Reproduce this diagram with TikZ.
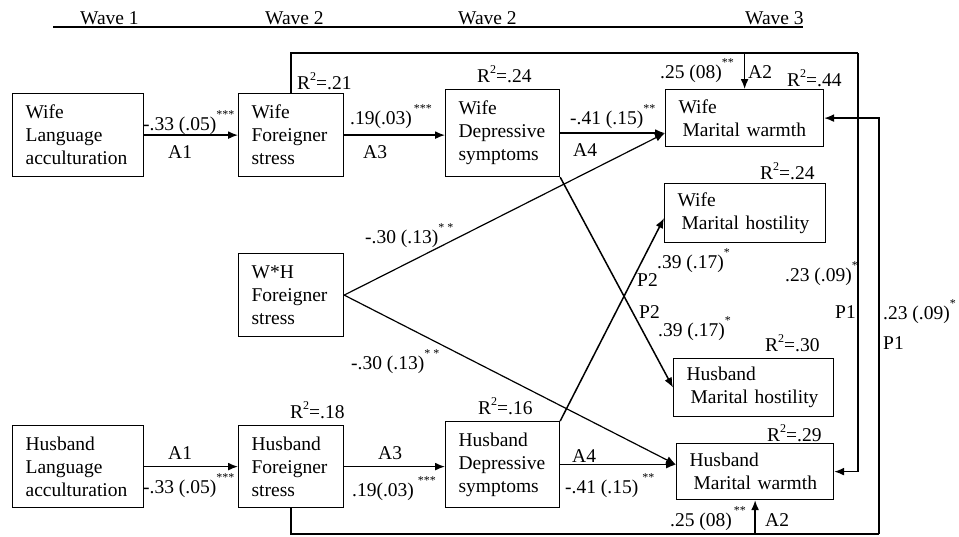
\documentclass[tikz,border=0pt]{standalone}
\usepackage{fontspec}
\setmainfont{Liberation Serif}
\usetikzlibrary{arrows.meta,calc}
\newcommand\sig[1]{\raisebox{12pt}{\fontsize{12}{12}\selectfont #1}}
\newcommand\rsq{R\raisebox{9pt}{\fontsize{12}{12}\selectfont 2}}
\tikzset{
  box/.style={draw, line width=1.2pt, anchor=north west, inner xsep=13pt, inner ysep=0pt, align=left, font=\fontsize{19.5}{23}\selectfont},
  lbl/.style={anchor=base west, inner sep=0pt, font=\fontsize{19.5}{23}\selectfont},
  arr/.style={line width=1.5pt, -{Latex[length=10pt,width=8pt]}},
  ln/.style={line width=1.5pt},
  thinln/.style={line width=1.2pt},
}
\begin{document}
\begin{tikzpicture}[x=1pt,y=-1pt]
\useasboundingbox[fill=white] (0,0) rectangle (959,536);
% header
\node[lbl] (h1) at (80,24.5) {Wave 1};
\node[lbl] (h2) at (265,24.5) {Wave 2};
\node[lbl] (h3) at (458,24.5) {Wave 2};
\node[lbl] (h4) at (745,24.5) {Wave 3};
\coordinate (hl) at (53,27);
\coordinate (hr) at (803,27);
\draw[thinln] (hl) -- (hr);
% boxes
\node[box, minimum width=131pt, minimum height=83pt, text width=105pt] (wla) at (12,93) {Wife\\Language\\acculturation};
\node[box, minimum width=105pt, minimum height=83pt, text width=79pt] (wfs) at (238,93) {Wife\\Foreigner\\stress};
\node[box, minimum width=114pt, minimum height=87pt, text width=88pt] (wds) at (445,89) {Wife\\Depressive\\symptoms};
\node[box, minimum width=158pt, minimum height=57pt, text width=132pt] (wmw) at (665,89) {Wife\\\hspace*{4pt}Marital~warmth};
\node[box, minimum width=161pt, minimum height=59pt, text width=135pt] (wmh) at (664,183) {Wife\\\hspace*{4pt}Marital~hostility};
\node[box, minimum width=105pt, minimum height=83pt, text width=79pt] (wh) at (238,253) {W*H\\Foreigner\\stress};
\node[box, minimum width=160pt, minimum height=58pt, text width=134pt] (hmh) at (673,358) {Husband\\\hspace*{4pt}Marital~hostility};
\node[box, minimum width=131pt, minimum height=82pt, text width=105pt] (hla) at (12,425) {Husband\\Language\\acculturation};
\node[box, minimum width=105pt, minimum height=82pt, text width=79pt] (hfs) at (238,425) {Husband\\Foreigner\\stress};
\node[box, minimum width=114pt, minimum height=86pt, text width=88pt] (hds) at (445,421) {Husband\\Depressive\\symptoms};
\node[box, minimum width=157pt, minimum height=56pt, text width=131pt] (hmw) at (676,443) {Husband\\\hspace*{4pt}Marital~warmth};
% straight paths
\draw[arr] (wla.east) -- (wfs.west);
\draw[arr] (wfs.east) -- (wfs.east -| wds.west);
\draw[arr] (wds.east) -- (wds.east -| wmw.west);
\draw[arr] (hla.east) -- (hfs.west);
\draw[arr] (hfs.east) -- (hfs.east -| hds.west);
\draw[arr] (hds.east) -- (hds.east -| hmw.west);
% W*H paths
\draw[thinln, -{Latex[length=10pt,width=8pt]}] (wh.east) -- (wds.east -| wmw.west);
\draw[thinln, -{Latex[length=10pt,width=8pt]}] (wh.east) -- (hds.east -| hmw.west);
% crossing P2 paths
\draw[arr] (wds.south east) -- (hmh.west);
\draw[arr] (hds.north east) -- ([yshift=-5pt]wmh.west);
% top route
\coordinate (tr) at (858,53);
\draw[ln] (wfs.north) |- (tr);
\draw[arr] (tr) -- (tr |- hmw.east) -- (hmw.east);
\draw[arr] (wmw.north |- tr) -- (wmw.north);
% bottom route
\coordinate (br) at (879,534);
\draw[ln] (hfs.south) |- (br);
\draw[arr] (br) -- (br |- wmw.east) -- (wmw.east);
\draw[arr] (hmw.south |- br) -- (hmw.south);
% labels
\node[lbl] (l1) at (297,89.5) {\rsq=.21};
\node[lbl] (l2) at (477,82.5) {\rsq=.24};
\node[lbl] (l3) at (660,78.5) {.25 (08)\sig{**}};
\node[lbl] (l4) at (748,78.5) {A2};
\node[lbl] (l5) at (787,86.5) {\rsq=.44};
\node[lbl] (l6) at (143,130.5) {-.33 (.05)\sig{***}};
\node[lbl] (l7) at (168,158.5) {A1};
\node[lbl] (l8) at (350,124.5) {.19(.03)\sig{\hspace{2pt}***}};
\node[lbl] (l9) at (363,158.5) {A3};
\node[lbl] (l10) at (570,124.5) {-.41 (.15)\sig{**}};
\node[lbl] (l11) at (573,156.5) {A4};
\node[lbl] (l12) at (760,179.5) {\rsq=.24};
\node[lbl] (l13) at (365,243.5) {-.30 (.13)\sig{* *}};
\node[lbl] (l14) at (657,268.5) {.39 (.17)\sig{*}};
\node[lbl] (l15) at (637,286.5) {P2};
\node[lbl] (l16) at (785,281.5) {.23 (.09)\sig{*}};
\node[lbl] (l17) at (835,318.5) {P1};
\node[lbl] (l18) at (639,318.5) {P2};
\node[lbl] (l19) at (883,319.5) {.23 (.09)\sig{*}};
\node[lbl] (l20) at (658,336.5) {.39 (.17)\sig{*}};
\node[lbl] (l21) at (883,349.5) {P1};
\node[lbl] (l22) at (765,351.5) {\rsq=.30};
\node[lbl] (l23) at (351,369.5) {-.30 (.13)\sig{* *}};
\node[lbl] (l24) at (290,418.5) {\rsq=.18};
\node[lbl] (l25) at (478,414.5) {\rsq=.16};
\node[lbl] (l26) at (767,441.5) {\rsq=.29};
\node[lbl] (l27) at (168,459.5) {A1};
\node[lbl] (l28) at (378,459.5) {A3};
\node[lbl] (l29) at (572,462.5) {A4};
\node[lbl] (l30) at (143,493.5) {-.33 (.05)\sig{***}};
\node[lbl] (l31) at (352,496.5) {.19(.03)\sig{\hspace{4pt}***}};
\node[lbl] (l32) at (565,493.5) {-.41 (.15)\sig{\hspace{4pt}**}};
\node[lbl] (l33) at (670,526.5) {.25 (08)\sig{\hspace{2pt}**}};
\node[lbl] (l34) at (765,526.5) {A2};
\end{tikzpicture}
\end{document}
